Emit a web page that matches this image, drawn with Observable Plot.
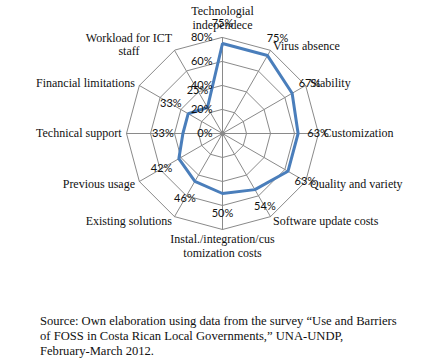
<!DOCTYPE html>
<html>
<head>
<meta charset="utf-8">
<script src="https://cdn.jsdelivr.net/npm/d3@7"></script>
<script src="https://cdn.jsdelivr.net/npm/@observablehq/plot@0.6"></script>
<style>
  html, body { margin: 0; padding: 0; background: white; }
  #caption { font-family: "Liberation Serif", "Times New Roman", serif; font-size: 12.6px; line-height: 15px; color: #111; padding-left: 40px; margin-top: 4px; }
</style>
</head>
<body>
<div id="chart"></div>
<div id="caption">Source: Own elaboration using data from the survey “Use and Barriers<br>of FOSS in Costa Rican Local Governments,” UNA-UNDP,<br>February-March 2012.</div>
<script>
const categories = [
  "Technologial\nindependece", "Virus absence", "Stability", "Customization",
  "Quality and variety", "Software update costs", "Instal./integration/cus\ntomization costs",
  "Existing solutions", "Previous usage", "Technical support", "Financial limitations",
  "Workload for ICT\nstaff"
];
const values = [0.75, 0.75, 0.67, 0.63, 0.63, 0.54, 0.50, 0.46, 0.42, 0.33, 0.33, 0.25];
const valueLabels = ["75%", "75%", "67%", "63%", "63%", "54%", "50%", "46%", "42%", "33%", "33%", "25%"];
const ringLevels = [0.2, 0.4, 0.6, 0.8];
const ringTicks = [0, 0.2, 0.4, 0.6, 0.8];
const ringTickLabels = ["0%", "20%", "40%", "60%", "80%"];

const n = categories.length;
const maxR = 0.8;
const unitsPerPx = maxR / 96;
const ang = i => i * 2 * Math.PI / n;
const px = (i, r) => r * Math.sin(ang(i));
const py = (i, r) => r * Math.cos(ang(i));

const rings = ringLevels.flatMap(level => categories.map((c, i) => ({level, x: px(i, level), y: py(i, level)})));
const spokes = categories.flatMap((c, i) => [{i, x: 0, y: 0}, {i, x: px(i, maxR), y: py(i, maxR)}]);
const series = values.map((v, i) => ({x: px(i, v), y: py(i, v)}));
const vlabels = values.map((v, i) => ({t: valueLabels[i], x: px(i, v + 20 * unitsPerPx), y: py(i, v + 20 * unitsPerPx)}));
const labR = maxR + 5 * unitsPerPx;
const clabels = categories.map((c, i) => ({i, t: c, x: px(i, labR), y: py(i, labR)}));
const rticks = ringTicks.map((r, k) => ({t: ringTickLabels[k], x: 0, y: r}));

const serif = "Liberation Serif, Times New Roman, serif";
const sans = "Lato, Carlito, Liberation Sans, sans-serif";
const grid = "#8a8a8a";

const chart = Plot.plot({
  width: 430,
  height: 310,
  margin: 0,
  x: {type: "linear", domain: [-maxR, maxR], range: [126, 318], axis: null},
  y: {type: "linear", domain: [-maxR, maxR], range: [229, 37], axis: null},
  style: {background: "white"},
  marks: [
    Plot.line(rings, {x: "x", y: "y", z: "level", curve: "linear-closed", stroke: grid, strokeWidth: 1}),
    Plot.line(spokes, {x: "x", y: "y", z: "i", stroke: grid, strokeWidth: 1}),
    Plot.dot([{x: 0, y: 0}], {x: "x", y: "y", r: 2.5, fill: grid}),
    Plot.line(series, {x: "x", y: "y", curve: "linear-closed", stroke: "#4a7ebb", strokeWidth: 3, strokeLinejoin: "miter"}),
    Plot.text(rticks, {x: "x", y: "y", text: "t", textAnchor: "end", dx: -10, fontFamily: sans, fontSize: 11, fill: "#111"}),
    Plot.text(vlabels, {x: "x", y: "y", text: "t", textAnchor: "middle", fontFamily: sans, fontSize: 11, fill: "#111"}),
    Plot.text(clabels.filter(d => d.i >= 1 && d.i <= 5), {x: "x", y: "y", text: "t", textAnchor: "start", fontFamily: serif, fontSize: 12, fill: "#111"}),
    Plot.text(clabels.filter(d => d.i >= 7 && d.i <= 10), {x: "x", y: "y", text: "t", textAnchor: "end", fontFamily: serif, fontSize: 12, fill: "#111"}),
    Plot.text(clabels.filter(d => d.i === 0), {x: "x", y: "y", text: "t", textAnchor: "middle", lineAnchor: "bottom", lineHeight: 1.1, dy: -4, fontFamily: serif, fontSize: 12, fill: "#111"}),
    Plot.text(clabels.filter(d => d.i === 6), {x: "x", y: "y", text: "t", textAnchor: "middle", lineAnchor: "top", lineHeight: 1.15, dy: -1, fontFamily: serif, fontSize: 12, fill: "#111"}),
    Plot.text(clabels.filter(d => d.i === 11), {x: "x", y: "y", text: "t", textAnchor: "middle", lineAnchor: "middle", lineHeight: 1.1, dx: -43, dy: -2, fontFamily: serif, fontSize: 12, fill: "#111"})
  ]
});
document.getElementById("chart").appendChild(chart);
</script>
</body>
</html>
